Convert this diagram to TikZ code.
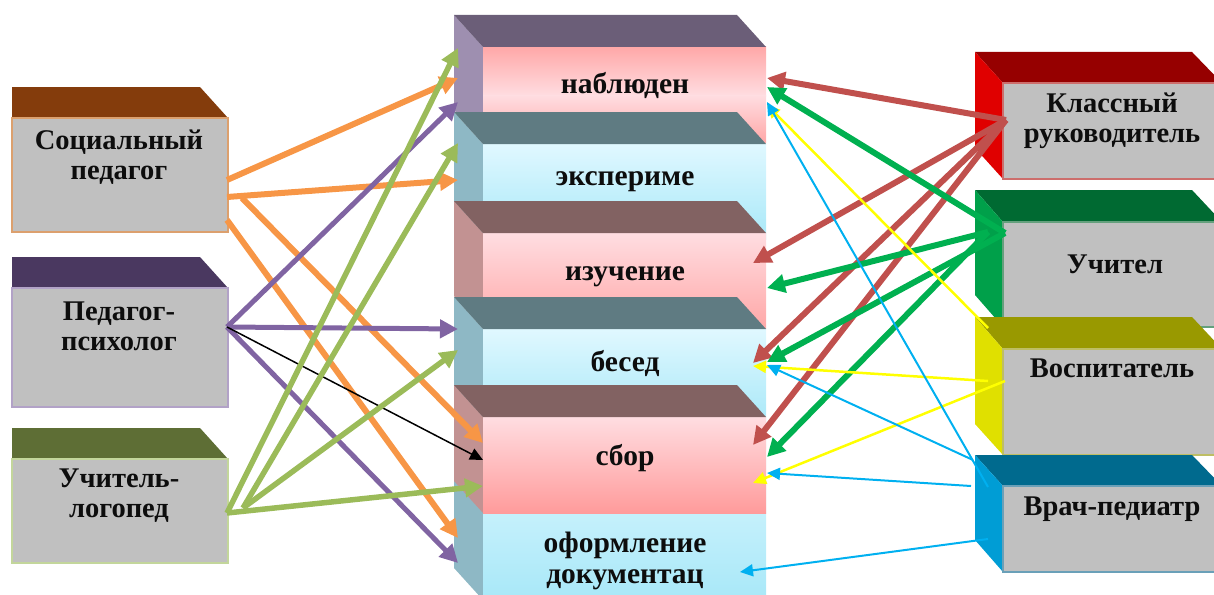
\documentclass[tikz,border=0pt]{standalone}
\usepackage{fontspec}
\setmainfont{Liberation Serif}
\usetikzlibrary{arrows.meta}
\definecolor{cOr}{HTML}{F79646}
\definecolor{cPu}{HTML}{8064A2}
\definecolor{cLg}{HTML}{9BBB59}
\definecolor{cRd}{HTML}{C0504D}
\definecolor{cGn}{HTML}{00B050}
\definecolor{cYe}{HTML}{FFFF00}
\definecolor{cBl}{HTML}{00B0F0}
\definecolor{pinkD}{HTML}{FFA8A8}
\definecolor{pinkL}{HTML}{FFDDE1}
\definecolor{blueL}{HTML}{E0F8FF}
\definecolor{blueD}{HTML}{A8E8F8}
\definecolor{frontG}{HTML}{C0C0C0}
\tikzset{
  lab/.style={font=\bfseries\fontsize{28.5}{30}\selectfont, align=center, inner sep=0pt, text=black!95},
  clab/.style={font=\bfseries\fontsize{29.5}{31}\selectfont, align=center, inner sep=0pt, text=black!95},
  thick arr/.style={line width=#1, -{Triangle[length=18pt,width=18pt]}},
  thin arr/.style={line width=#1, -{Triangle[length=13pt,width=12pt]}},
}
\begin{document}
\begin{tikzpicture}[x=1pt,y=-1pt]
\useasboundingbox (0,0) rectangle (1214,594);

% ---------- left boxes ----------
\fill[fill={rgb,255:red,132;green,60;blue,12}] (12,87) -- (200,87) -- (228,118) -- (12,118) -- cycle;
\draw[fill=frontG, draw={rgb,255:red,220;green,160;blue,110}, line width=2] (12,118) rectangle (228,232);
\fill[fill={rgb,255:red,74;green,56;blue,96}] (12,257) -- (200,257) -- (228,288) -- (12,288) -- cycle;
\draw[fill=frontG, draw={rgb,255:red,178;green,162;blue,199}, line width=2] (12,288) rectangle (228,407);
\fill[fill={rgb,255:red,94;green,110;blue,53}] (12,428) -- (200,428) -- (228,459) -- (12,459) -- cycle;
\draw[fill=frontG, draw={rgb,255:red,195;green,214;blue,155}, line width=2] (12,459) rectangle (228,563);
\node[lab] (soc) at (119,157) {Социальный\\педагог};
\node[lab] (psy) at (119,326) {Педагог-\\психолог};
\node[lab] (log) at (119,496) {Учитель-\\логопед};

% ---------- centre column ----------
% box 6 (bottom, drawn first)
\fill[fill={rgb,255:red,142;green,184;blue,197}] (454,400) -- (483,432) -- (483,600) -- (454,568) -- cycle;
\shade[top color=blueL, bottom color=blueD] (483,432) rectangle (766,600);
% box 1
\fill[fill={rgb,255:red,158;green,143;blue,176}] (454,15) -- (483,47) -- (483,142) -- (454,110) -- cycle;
\shade[top color=pinkD, bottom color=pinkL] (483,47) rectangle (766,96);
\shade[top color=pinkL, bottom color=pinkD] (483,95.5) rectangle (766,142);
\fill[fill={rgb,255:red,107;green,94;blue,120}] (454,15) -- (737,15) -- (766,47) -- (483,47) -- cycle;
% box 2
\fill[fill={rgb,255:red,142;green,184;blue,197}] (454,112) -- (483,144) -- (483,239) -- (454,207) -- cycle;
\shade[top color=blueL, bottom color=blueD] (483,144) rectangle (766,239);
\fill[fill={rgb,255:red,95;green,123;blue,130}] (454,112) -- (737,112) -- (766,144) -- (483,144) -- cycle;
% box 3
\fill[fill={rgb,255:red,194;green,146;blue,146}] (454,201) -- (483,233) -- (483,328) -- (454,296) -- cycle;
\shade[top color=pinkL, bottom color=pinkD] (483,233) rectangle (766,328);
\fill[fill={rgb,255:red,130;green,98;blue,98}] (454,201) -- (737,201) -- (766,233) -- (483,233) -- cycle;
% box 4
\fill[fill={rgb,255:red,142;green,184;blue,197}] (454,297) -- (483,329) -- (483,424) -- (454,392) -- cycle;
\shade[top color=blueL, bottom color=blueD] (483,329) rectangle (766,424);
\fill[fill={rgb,255:red,95;green,123;blue,130}] (454,297) -- (737,297) -- (766,329) -- (483,329) -- cycle;
% box 5
\fill[fill={rgb,255:red,194;green,146;blue,146}] (454,385) -- (483,417) -- (483,513) -- (454,481) -- cycle;
\shade[top color=pinkL, bottom color={rgb,255:red,255;green,155;blue,155}] (483,417) rectangle (766,513);
\fill[fill={rgb,255:red,130;green,98;blue,98}] (454,385) -- (737,385) -- (766,417) -- (483,417) -- cycle;

\node[clab, anchor=base] (nab) at (625,93) {наблюден};
\node[clab, anchor=base] (eks) at (625,185) {экспериме};
\node[clab, anchor=base] (izu) at (625,280) {изучение};
\node[clab, anchor=base] (bes) at (625,371) {бесед};
\node[clab, anchor=base] (sbo) at (625,465) {сбор};
\node[clab] (ofo) at (625,561) {оформление\\документац};

% ---------- right boxes ----------
\fill[fill={rgb,255:red,150;green,0;blue,0}] (975,52) -- (1192,52) -- (1222,83) -- (1003,83) -- cycle;
\fill[fill={rgb,255:red,224;green,0;blue,0}] (975,52) -- (1003,83) -- (1003,179) -- (975,148) -- cycle;
\draw[fill=frontG, draw={rgb,255:red,205;green,110;blue,108}, line width=2] (1003,83) rectangle (1224,179);

\fill[fill={rgb,255:red,0;green,106;blue,50}] (975,190) -- (1192,190) -- (1222,222) -- (1003,222) -- cycle;
\fill[fill={rgb,255:red,0;green,160;blue,74}] (975,190) -- (1003,222) -- (1003,327) -- (975,295) -- cycle;
\draw[fill=frontG, draw={rgb,255:red,100;green,160;blue,125}, line width=2] (1003,222) rectangle (1224,327);

\fill[fill={rgb,255:red,153;green,153;blue,0}] (975,317) -- (1192,317) -- (1222,349) -- (1003,349) -- cycle;
\fill[fill={rgb,255:red,224;green,224;blue,0}] (975,317) -- (1003,349) -- (1003,455) -- (975,424) -- cycle;
\draw[fill=frontG, draw={rgb,255:red,190;green,190;blue,100}, line width=2] (1003,349) rectangle (1224,455);

\fill[fill={rgb,255:red,0;green,106;blue,142}] (975,455) -- (1192,455) -- (1222,486) -- (1003,486) -- cycle;
\fill[fill={rgb,255:red,0;green,157;blue,213}] (975,455) -- (1003,486) -- (1003,572) -- (975,540) -- cycle;
\draw[fill=frontG, draw={rgb,255:red,106;green,160;blue,184}, line width=2] (1003,486) rectangle (1224,572);

\node[lab] (kla) at (1112,121) {Классный\\руководитель};
\node[lab, anchor=base] (uch) at (1115,273) {Учител};
\node[lab, anchor=base] (vos) at (1112,377) {Воспитатель};
\node[lab, anchor=base] (vra) at (1112,515) {Врач-педиатр};

% ---------- connector end points ----------
\coordinate (so1) at (227,180); \coordinate (so2) at (227,197);
\coordinate (so3) at (242,198); \coordinate (so4) at (227,220);
\coordinate (pp) at (227,327);
\coordinate (lg1) at (227,513); \coordinate (lg2) at (243,508);
\coordinate (kr) at (1006,120);
\coordinate (ug1) at (1005,233); \coordinate (ug2) at (988,232);
\coordinate (vy1) at (988,328); \coordinate (vy2) at (988,381); \coordinate (vy3) at (1005,381);
\coordinate (vb1) at (988,487); \coordinate (vb2) at (973,460); \coordinate (vb3) at (971,486); \coordinate (vb4) at (988,539);

\coordinate (tNo) at (458,78);  \coordinate (tNp) at (458,102); \coordinate (tNg) at (458,48);
\coordinate (tEo) at (458,180); \coordinate (tEg) at (458,143);
\coordinate (tBp) at (458,329); \coordinate (tBg) at (458,350);
\coordinate (tSo) at (483,443); \coordinate (tSk) at (483,460); \coordinate (tSg) at (483,486);
\coordinate (tOo) at (458,538); \coordinate (tOp) at (458,563);

\coordinate (rNr) at (767,78);  \coordinate (rNg) at (767,87); \coordinate (rNy) at (767,105); \coordinate (rNb) at (767,102);
\coordinate (rIr) at (753,263); \coordinate (rIg) at (767,288);
\coordinate (rBr) at (753,363); \coordinate (rBg) at (767,362); \coordinate (rBy) at (753,366); \coordinate (rBb) at (767,365);
\coordinate (rSr) at (753,445); \coordinate (rSg) at (767,457); \coordinate (rSy) at (753,483); \coordinate (rSb) at (767,473);
\coordinate (rOb) at (740,572);

% ---------- left connectors ----------
\draw[cOr, thick arr=6] (so1) -- (tNo);
\draw[cOr, thick arr=6] (so2) -- (tEo);
\draw[cOr, thick arr=6] (so3) -- (tSo);
\draw[cOr, thick arr=6] (so4) -- (tOo);
\draw[cPu, thick arr=5] (pp) -- (tNp);
\draw[cPu, thick arr=5] (pp) -- (tBp);
\draw[cPu, thick arr=5] (pp) -- (tOp);
\draw[black, thin arr=1.5] (pp) -- (tSk);
\draw[cLg, thick arr=5.5] (lg1) -- (tNg);
\draw[cLg, thick arr=5.5] (lg2) -- (tEg);
\draw[cLg, thick arr=5.5] (lg2) -- (tBg);
\draw[cLg, thick arr=5.5] (lg1) -- (tSg);

% ---------- right connectors ----------
\draw[cRd, thick arr=6] (kr) -- (rNr);
\draw[cRd, thick arr=6] (kr) -- (rIr);
\draw[cRd, thick arr=6] (kr) -- (rBr);
\draw[cRd, thick arr=6] (kr) -- (rSr);
\draw[cGn, thick arr=6] (ug1) -- (rNg);
\draw[cGn, thick arr=6] (ug2) -- (rIg);
\draw[cGn, thick arr=6] (ug1) -- (rBg);
\draw[cGn, thick arr=6] (ug2) -- (rSg);
\draw[cYe, thin arr=2.5] (vy1) -- (rNy);
\draw[cYe, thin arr=2.5] (vy2) -- (rBy);
\draw[cYe, thin arr=2.5] (vy3) -- (rSy);
\draw[cBl, thin arr=2] (vb1) -- (rNb);
\draw[cBl, thin arr=2] (vb2) -- (rBb);
\draw[cBl, thin arr=2] (vb3) -- (rSb);
\draw[cBl, thin arr=2] (vb4) -- (rOb);
\end{tikzpicture}
\end{document}
